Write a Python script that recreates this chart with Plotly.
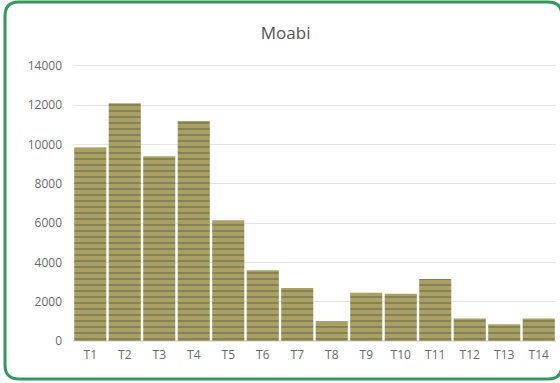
import plotly.graph_objects as go

# data
categories = ["T1", "T2", "T3", "T4", "T5", "T6", "T7", "T8", "T9", "T10", "T11", "T12", "T13", "T14"]
values = [9850, 12100, 9400, 11200, 6150, 3600, 2700, 1000, 2450, 2400, 3150, 1150, 850, 1150]
y_ticks = [0, 2000, 4000, 6000, 8000, 10000, 12000, 14000]
y_labels = [str(v) for v in y_ticks]

W, H = 560, 383
L, R, T, B = 73, 4, 60, 42


def px_to_paper(x, y):
    return (x - L) / (W - L - R), (H - B - y) / (H - T - B)


def rounded_rect(x0, y0, x1, y1, r):
    p = lambda x, y: "%.4f,%.4f" % px_to_paper(x, y)
    path = "M " + p(x0 + r, y0)
    path += " L " + p(x1 - r, y0) + " Q " + p(x1, y0) + " " + p(x1, y0 + r)
    path += " L " + p(x1, y1 - r) + " Q " + p(x1, y1) + " " + p(x1 - r, y1)
    path += " L " + p(x0 + r, y1) + " Q " + p(x0, y1) + " " + p(x0, y1 - r)
    path += " L " + p(x0, y0 + r) + " Q " + p(x0, y0) + " " + p(x0 + r, y0) + " Z"
    return path


fig = go.Figure()
fig.add_trace(go.Bar(
    x=categories, y=values,
    marker=dict(
        color="#a39c62",
        line=dict(width=0),
        pattern=dict(shape="-", fgcolor="#5a5d3e", bgcolor="#a8a064", size=6, solidity=0.3),
    ),
))

fig.update_layout(
    width=W, height=H,
    margin=dict(l=L, r=R, t=T, b=B),
    paper_bgcolor="white", plot_bgcolor="white",
    bargap=0.07,
    showlegend=False,
    title=dict(text="Moabi", x=0.51, xanchor="center", y=0.915, yanchor="middle",
               font=dict(family="Open Sans", size=17, color="#555555")),
    font=dict(family="Open Sans", size=12, color="#6a6a6a"),
    xaxis=dict(showgrid=False, showline=False, ticks="", ticklabelstandoff=5,
               tickfont=dict(size=12)),
    yaxis=dict(range=[0, 14305], tickvals=y_ticks, ticktext=y_labels, showgrid=True,
               gridcolor="#e4e4e4", gridwidth=1, zeroline=True, zerolinecolor="#e4e4e4",
               ticks="", ticklabelstandoff=10, tickfont=dict(size=12)),
    shapes=[dict(type="path", xref="paper", yref="paper",
                 path=rounded_rect(5, 2, 562, 379, 14),
                 line=dict(color="#2f9a5c", width=3), layer="above")],
)

fig.write_html("out.html", config={"displayModeBar": False},
               post_script="document.body.style.margin='0';")
